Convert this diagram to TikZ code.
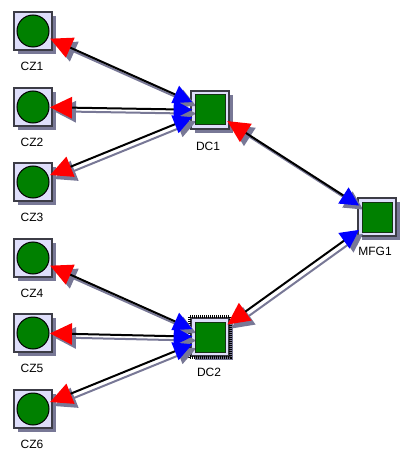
\documentclass[tikz,border=0pt]{standalone}
\usepackage{fontspec}
\setmainfont{Liberation Sans}
\usetikzlibrary{arrows.meta,shadows}

\tikzset{every picture/.style={line width=0.75pt}}
\tikzset{
  boxshadow/.style={general shadow={fill={rgb, 255:red, 120; green, 120; blue, 150 },shadow xshift=3pt,shadow yshift=-3pt}},
  sitebox/.style={draw={rgb, 255:red, 60; green, 60; blue, 70 },fill={rgb, 255:red, 222; green, 222; blue, 250 },line width=0.9pt,minimum size=28.5pt,inner sep=0pt,outer sep=0pt,boxshadow},
  zonedot/.style={circle,draw=black,fill={rgb, 255:red, 0; green, 128; blue, 0 },line width=0.75pt,minimum size=24pt,inner sep=0pt},
  hubsquare/.style={draw={rgb, 255:red, 20; green, 50; blue, 20 },fill={rgb, 255:red, 0; green, 128; blue, 0 },line width=0.75pt,minimum size=22.5pt,inner sep=0pt},
  selectbox/.style={draw=black,line width=1.9pt,dash pattern=on 0.75pt off 0.75pt,minimum size=30.4pt,inner sep=0pt},
  sitetext/.style={font=\fontsize{9}{10}\selectfont,inner sep=0pt},
  linkline/.style={line width=1.5pt,shorten <=-1.5pt,shorten >=-1pt,{Triangle[length=16.5pt,width=16pt,color=red]}-{Triangle[length=14pt,width=14pt,color=blue]}},
  linkshadow/.style={line width=1.5pt,shorten <=-1.5pt,shorten >=-1pt,color={rgb, 255:red, 120; green, 120; blue, 150 },transform canvas={shift={(3pt,-3pt)}},{Triangle[length=16.5pt,width=16pt]}-{Triangle[length=14pt,width=14pt]}},
}

\begin{document}
\begin{tikzpicture}[x=0.75pt,y=0.75pt,yscale=-1]
\useasboundingbox (0,0) rectangle (412,474);

%Customer zones
\node [sitebox] (cz1) at (33,31) {};
\node [sitebox] (cz2) at (33,107) {};
\node [sitebox] (cz3) at (33,182) {};
\node [sitebox] (cz4) at (33,258) {};
\node [sitebox] (cz5) at (33,333) {};
\node [sitebox] (cz6) at (33,409) {};
%Distribution centres
\node [sitebox] (dc1) at (210,110) {};
\node [sitebox] (dc2) at (210,337) {};
%Factory
\node [sitebox] (mfg1) at (377,217) {};
%Selection border of DC2
\node [selectbox] (dc2sel) at (dc2) {};

%Link shadows
\draw [linkshadow] (cz1) -- (dc1);
\draw [linkshadow] (cz2) -- (dc1);
\draw [linkshadow] (cz3) -- (dc1);
\draw [linkshadow] (cz4) -- (dc2);
\draw [linkshadow] (cz5) -- (dc2);
\draw [linkshadow] (cz6) -- (dc2);
\draw [linkshadow] (dc1) -- (mfg1);
\draw [linkshadow] (dc2) -- (mfg1);

%Links
\draw [linkline] (cz1) -- (dc1);
\draw [linkline] (cz2) -- (dc1);
\draw [linkline] (cz3) -- (dc1);
\draw [linkline] (cz4) -- (dc2);
\draw [linkline] (cz5) -- (dc2);
\draw [linkline] (cz6) -- (dc2);
\draw [linkline] (dc1) -- (mfg1);
\draw [linkline] (dc2) -- (mfg1);

%Shape: Circle
\node [zonedot] (cz1dot) at (cz1) {};
\node [zonedot] (cz2dot) at (cz2) {};
\node [zonedot] (cz3dot) at (cz3) {};
\node [zonedot] (cz4dot) at (cz4) {};
\node [zonedot] (cz5dot) at (cz5) {};
\node [zonedot] (cz6dot) at (cz6) {};
%Shape: Square
\node [hubsquare] (dc1sq) at (dc1) {};
\node [hubsquare] (dc2sq) at (dc2) {};
\node [hubsquare] (mfg1sq) at (mfg1) {};

% Text Node
\node [sitetext] (cz1text) at (32,66) {CZ1};
% Text Node
\node [sitetext] (cz2text) at (32,142) {CZ2};
% Text Node
\node [sitetext] (cz3text) at (32,217) {CZ3};
% Text Node
\node [sitetext] (cz4text) at (32,293) {CZ4};
% Text Node
\node [sitetext] (cz5text) at (32,368) {CZ5};
% Text Node
\node [sitetext] (cz6text) at (32,444) {CZ6};
% Text Node
\node [sitetext] (dc1text) at (208,146) {DC1};
% Text Node
\node [sitetext] (dc2text) at (209,372) {DC2};
% Text Node
\node [sitetext] (mfg1text) at (375,251) {MFG1};
\end{tikzpicture}
\end{document}
